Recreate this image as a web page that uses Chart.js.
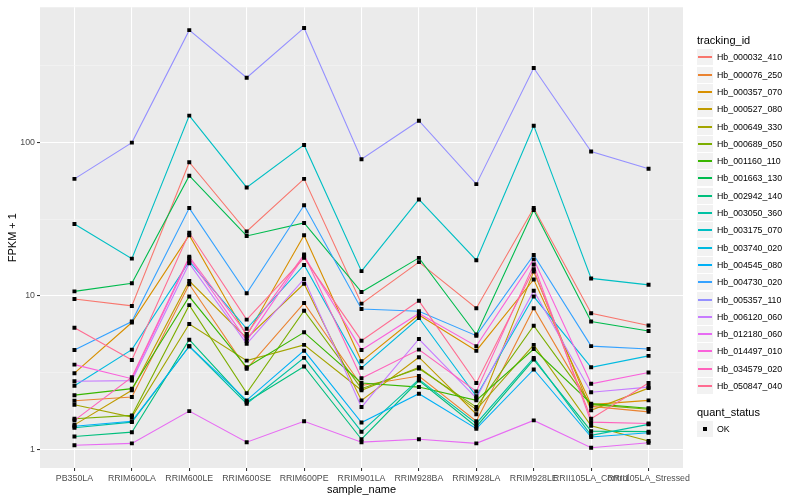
<!DOCTYPE html>
<html>
<head>
<meta charset="utf-8">
<script src="https://cdn.jsdelivr.net/npm/chart.js@4/dist/chart.umd.min.js"></script>
<style>
  body { margin: 0; background: #fff; font-family: "Liberation Sans", Arial, sans-serif; }
  #wrap { position: relative; width: 800px; height: 500px; }
  #c { position: absolute; left: 0; top: 0; }
  .lg-title { position: absolute; left: 697px; font-size: 11px; color: #000; line-height: 12px; white-space: nowrap; }
  .lg-key { position: absolute; left: 697px; width: 16px; height: 16px; background: #f2f2f2; }
  .lg-key span { position: absolute; left: 1px; width: 14px; top: 7px; height: 2px; }
  .lg-text { position: absolute; left: 717px; font-size: 8.8px; color: #000; line-height: 10px; white-space: nowrap; }
</style>
</head>
<body>
<div id="wrap">
  <canvas id="c" width="800" height="500"></canvas>
  <div id="legend"></div>
</div>
<script>
// categories on the x axis
const categories = ['PB350LA', 'RRIM600LA', 'RRIM600LE', 'RRIM600SE', 'RRIM600PE', 'RRIM901LA',
  'RRIM928BA', 'RRIM928LA', 'RRIM928LE', 'RRII105LA_Control', 'RRII105LA_Stressed'];

// FPKM + 1 per gene
const hb_000032_410 = [9.55, 8.6, 74.5, 26.3, 58, 8.9, 16.6, 8.3, 37.4, 7.7, 6.4];
const hb_000076_250 = [2.07, 2.19, 11.9, 3.34, 8.97, 2.6, 3.0, 1.52, 8.3, 1.9, 1.75];
const hb_000357_070 = [3.13, 6.7, 24.9, 5.5, 24.9, 3.74, 7.5, 4.39, 12.8, 1.95, 2.08];
const hb_000527_080 = [1.44, 2.42, 12.5, 5.3, 12.0, 2.08, 3.98, 1.69, 14.4, 1.79, 2.5];
const hb_000649_330 = [1.95, 1.62, 6.55, 3.78, 4.79, 2.42, 3.42, 1.81, 4.79, 1.42, 1.13];
const hb_000689_050 = [1.58, 1.66, 8.7, 2.32, 8.0, 2.48, 3.36, 1.88, 6.39, 1.95, 1.82];
const hb_001160_110 = [2.25, 2.48, 9.9, 3.42, 5.78, 2.7, 2.54, 2.08, 4.5, 1.98, 1.85];
const hb_001663_130 = [10.7, 12.1, 60.8, 24.6, 29.9, 10.6, 17.7, 5.6, 36.3, 6.8, 5.9];
const hb_002942_140 = [1.21, 1.29, 5.18, 2.03, 3.46, 1.16, 2.8, 1.4, 3.84, 1.31, 1.3];
const hb_003050_360 = [1.38, 1.5, 4.69, 1.98, 3.94, 1.3, 2.85, 1.47, 3.94, 1.23, 1.45];
const hb_003175_070 = [29.4, 17.5, 150, 51, 96.6, 14.5, 42.6, 17.1, 129, 13, 11.8];
const hb_003740_020 = [2.59, 4.46, 16.8, 6.1, 15.9, 3.39, 7.17, 2.21, 9.9, 3.42, 4.06];
const hb_004545_080 = [1.41, 1.52, 4.69, 2.08, 4.39, 1.49, 2.3, 1.36, 3.31, 1.2, 1.28];
const hb_004730_020 = [4.44, 6.8, 37.4, 10.4, 39, 8.2, 7.93, 5.5, 18.5, 4.7, 4.5];
const hb_005357_110 = [58, 100, 542, 265, 560, 78, 139, 53.6, 307, 87.5, 67.5];
const hb_006120_060 = [2.77, 2.8, 16.3, 4.86, 12.9, 1.88, 5.23, 2.15, 10.8, 2.35, 2.54];
const hb_012180_060 = [1.06, 1.09, 1.77, 1.11, 1.52, 1.11, 1.16, 1.09, 1.54, 1.02, 1.1];
const hb_014497_010 = [3.56, 2.88, 17.6, 5.1, 18.2, 4.44, 7.68, 4.7, 17.3, 2.67, 3.16];
const hb_034579_020 = [1.54, 2.95, 18, 5.64, 18.6, 2.9, 4.46, 2.38, 16.0, 1.5, 1.47];
const hb_050847_040 = [6.2, 3.82, 25.8, 7.0, 17.7, 5.1, 9.28, 2.7, 14.9, 1.58, 2.7];

const seriesNames = ['Hb_000032_410', 'Hb_000076_250', 'Hb_000357_070', 'Hb_000527_080', 'Hb_000649_330',
  'Hb_000689_050', 'Hb_001160_110', 'Hb_001663_130', 'Hb_002942_140', 'Hb_003050_360',
  'Hb_003175_070', 'Hb_003740_020', 'Hb_004545_080', 'Hb_004730_020', 'Hb_005357_110',
  'Hb_006120_060', 'Hb_012180_060', 'Hb_014497_010', 'Hb_034579_020', 'Hb_050847_040'];
const seriesValues = [hb_000032_410, hb_000076_250, hb_000357_070, hb_000527_080, hb_000649_330,
  hb_000689_050, hb_001160_110, hb_001663_130, hb_002942_140, hb_003050_360,
  hb_003175_070, hb_003740_020, hb_004545_080, hb_004730_020, hb_005357_110,
  hb_006120_060, hb_012180_060, hb_014497_010, hb_034579_020, hb_050847_040];
const seriesColors = ['#F8766D', '#EA8331', '#D89000', '#C09B00', '#A3A500', '#7CAE00', '#39B600',
  '#00BB4E', '#00BF7D', '#00C1A3', '#00BFC4', '#00BAE0', '#00B0F6', '#35A2FF', '#9590FF',
  '#C77CFF', '#E76BF3', '#FA62DB', '#FF62BC', '#FF6C91'];

const yTicks = [1, 3.1623, 10, 31.623, 100, 316.23];
const yMajor = [1, 10, 100];

const isMajor = v => yMajor.some(m => Math.abs(m - v) < 1e-6);

// grey panel like ggplot
const panelBg = {
  id: 'panelBg',
  beforeDraw(chart) {
    const { ctx, chartArea: a } = chart;
    ctx.save();
    ctx.fillStyle = '#EBEBEB';
    ctx.fillRect(a.left, a.top, a.right - a.left, a.bottom - a.top);
    ctx.restore();
  }
};

const lineSets = seriesValues.map((vals, i) => ({
  label: seriesNames[i],
  data: vals.map((v, j) => ({ x: j, y: v })),
  borderColor: seriesColors[i],
  borderWidth: 1.1,
  pointRadius: 0,
  tension: 0,
  order: 100 - i
}));

const pointSet = {
  label: 'OK',
  data: seriesValues.flatMap(vals => vals.map((v, j) => ({ x: j, y: v }))),
  showLine: false,
  pointStyle: 'rect',
  pointRadius: 2.8,
  pointBackgroundColor: '#000',
  pointBorderWidth: 0,
  order: 0
};

new Chart(document.getElementById('c'), {
  type: 'line',
  data: { datasets: [...lineSets, pointSet] },
  options: {
    responsive: false,
    animation: false,
    devicePixelRatio: 1,
    layout: { padding: { top: 5, right: 117, bottom: 0, left: 0 } },
    plugins: { legend: { display: false }, tooltip: { enabled: false } },
    scales: {
      x: {
        type: 'linear',
        min: -0.6,
        max: 10.6,
        afterBuildTicks: s => { s.ticks = categories.map((c, i) => ({ value: i })); },
        afterFit: s => { s.height = 32; },
        border: { display: false },
        grid: { color: '#fff', lineWidth: 1.07, tickColor: '#333', tickLength: 3 },
        ticks: {
          autoSkip: false, maxRotation: 0, minRotation: 0, padding: 2,
          color: '#4D4D4D', font: { family: 'Liberation Sans', size: 8.8 },
          callback: v => categories[v]
        },
        title: {
          display: true, text: 'sample_name', color: '#000',
          font: { family: 'Liberation Sans', size: 11 }, padding: { top: 0, bottom: 3 }
        }
      },
      y: {
        type: 'logarithmic',
        min: 0.753,
        max: 764,
        afterBuildTicks: s => { s.ticks = yTicks.map(v => ({ value: v })); },
        afterFit: s => { s.width = 40; },
        border: { display: false },
        grid: {
          color: c => isMajor(c.tick.value) ? '#fff' : '#F5F5F5',
          lineWidth: c => isMajor(c.tick.value) ? 1.07 : 0.6,
          tickColor: c => isMajor(c.tick.value) ? '#333' : 'rgba(0,0,0,0)',
          tickLength: 3
        },
        ticks: {
          autoSkip: false, padding: 2,
          color: '#4D4D4D', font: { family: 'Liberation Sans', size: 8.8 },
          callback: v => isMajor(v) ? String(Math.round(v)) : ''
        },
        title: {
          display: true, text: 'FPKM + 1', color: '#000',
          font: { family: 'Liberation Sans', size: 11 }, padding: { top: 6, bottom: 0 }
        }
      }
    }
  },
  plugins: [panelBg]
});

// ggplot-style legend on the right
const legend = document.getElementById('legend');
const add = (cls, top, html) => {
  const d = document.createElement('div');
  d.className = cls;
  d.style.top = top + 'px';
  d.innerHTML = html;
  legend.appendChild(d);
  return d;
};
add('lg-title', 34, 'tracking_id');
seriesNames.forEach((name, i) => {
  const cy = Math.round(57.3 + i * 17.3);
  add('lg-key', cy - 8, `<span style="background:${seriesColors[i]}"></span>`);
  add('lg-text', cy - 5, name);
});
add('lg-title', 406, 'quant_status');
add('lg-key', 421, '<span style="left:6px;width:4px;top:6px;height:4px;background:#000"></span>');
add('lg-text', 424, 'OK');
</script>
</body>
</html>
